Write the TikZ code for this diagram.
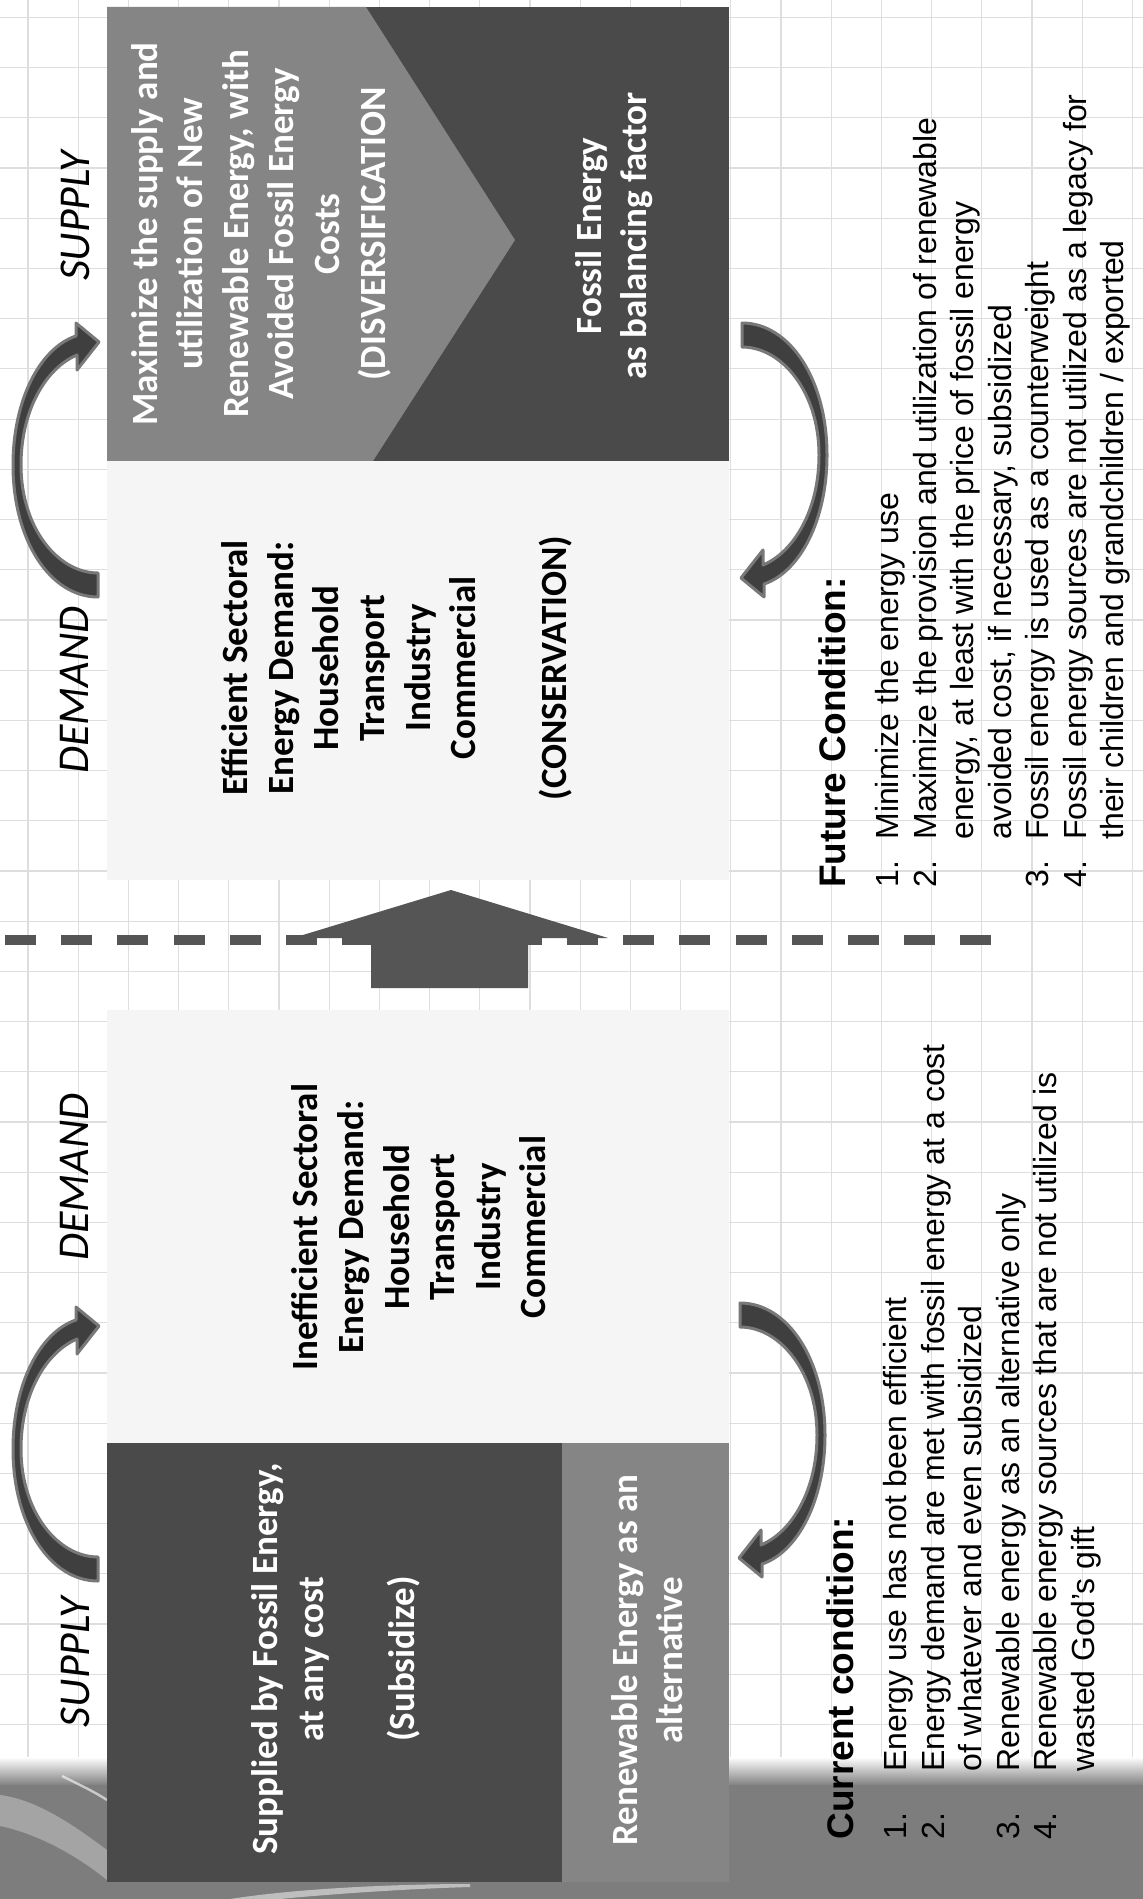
\documentclass[tikz,border=0pt]{standalone}
\usepackage{fontspec}
\setmainfont{Liberation Sans}
\newfontfamily\calib{Carlito}
\usepackage{tikz}
\usetikzlibrary{positioning}

\definecolor{darkfill}{HTML}{4A4A4A}
\definecolor{midfill}{HTML}{858585}
\definecolor{lightfill}{HTML}{F5F5F5}
\definecolor{arrowdark}{HTML}{3F3F3F}
\definecolor{arrowrim}{HTML}{787878}
\definecolor{shiftgray}{HTML}{555555}
\definecolor{gridgray}{HTML}{DEDEDE}
\definecolor{bandgray}{HTML}{7D7D7D}

\begin{document}
\begin{tikzpicture}[x=0.5pt, y=-0.5pt,
  gridline/.style={draw=gridgray, line width=0.6pt},
  boxtext/.style={rotate=90, align=center, inner sep=0pt, font=\calib\bfseries\fontsize{18.5}{22.8}\selectfont},
  sidelabel/.style={rotate=90, inner sep=0pt, font=\calib\itshape\fontsize{22}{26}\selectfont},
  listnode/.style={rotate=90, anchor=north west, inner sep=0pt, font=\fontsize{16}{18.75}\selectfont},
  curvarrow/.pic={
    \filldraw[fill=arrowdark, draw=arrowrim, line width=1.5pt, line join=round]
      (-2,137) .. controls (-50,137) and (-87,80) .. (-87,5)
      .. controls (-87,-60) and (-60,-112) .. (-24,-124)
      -- (-24,-137) -- (-1,-118) -- (-23,-90) -- (-23,-105)
      .. controls (-54,-92) and (-79,-50) .. (-79,5)
      .. controls (-79,68) and (-42,113) .. (-2,113) -- cycle;
  }]
  \useasboundingbox (0,0) rectangle (1143,1899);
  \fill[white] (0,0) rectangle (1143,1899);

  % graph paper
  \foreach \gx in {0,...,22}
    \draw[gridline] ({28+50.2*\gx},0) -- ({28+50.2*\gx},1899);
  \foreach \gy in {0,...,37}
    \draw[gridline] (0,{17.5+50.2*\gy}) -- (1143,{17.5+50.2*\gy});

  % slide band at the foot
  \shade[top color=white, bottom color=bandgray] (0,1757) rectangle (1143,1786);
  \fill[bandgray] (0,1785) rectangle (1143,1899);
  \fill[white, opacity=0.3] (0,1795) .. controls (40,1800) and (80,1830) .. (107,1850)
    -- (107,1880) .. controls (70,1850) and (30,1832) .. (0,1826) -- cycle;
  \draw[white, opacity=0.6, line width=1.2pt] (62,1776) .. controls (80,1785) and (95,1792) .. (107,1800);
  \fill[white, opacity=0.5] (230,1899) .. controls (300,1888) and (400,1884) .. (470,1884)
    -- (470,1887) .. controls (400,1889) and (320,1895) .. (280,1899) -- cycle;

  % future blocks
  \fill[darkfill] (107,7) rectangle (729,461);
  \fill[midfill] (107,7) -- (366,7) -- (515,240) -- (373,461) -- (107,461) -- cycle;
  \fill[lightfill] (107,461) rectangle (729,880);
  % current blocks
  \fill[lightfill] (107,1010) rectangle (729,1443);
  \fill[darkfill] (107,1443) rectangle (562,1882);
  \fill[midfill] (562,1443) rectangle (729,1882);

  \node[boxtext, text=white] (diversify) at (261,234) {Maximize the supply and\\utilization of New\\Renewable Energy, with\\Avoided Fossil Energy\\Costs\\(DISVERSIFICATION};
  \node[boxtext, text=white] (balance) at (614,236) {Fossil Energy\\as balancing factor};
  \node[boxtext] (efficient) at (397,668) {Efficient Sectoral\\Energy Demand:\\Household\\Transport\\Industry\\Commercial\\[22.8pt](CONSERVATION)};
  \node[boxtext] (inefficient) at (419,1227) {Inefficient Sectoral\\Energy Demand:\\Household\\Transport\\Industry\\Commercial};
  \node[boxtext, text=white] (fossil) at (336,1659) {Supplied by Fossil Energy,\\at any cost\\[22.8pt](Subsidize)};
  \node[boxtext, text=white] (renew) at (647,1660) {Renewable Energy as an\\alternative};

  \node[sidelabel] (supplytop) at (75,216) {SUPPLY};
  \node[sidelabel] (demandtop) at (74,690) {DEMAND};
  \node[sidelabel] (demandlow) at (74,1177) {DEMAND};
  \node[sidelabel] (supplylow) at (75,1662) {SUPPLY};

  % cycle arrows
  \pic at (100,460) {curvarrow};
  \pic at (100,1444) {curvarrow};
  \pic[rotate=180] at (740,460) {curvarrow};
  \pic[rotate=180] at (738,1440) {curvarrow};

  % divide and shift
  \draw[shiftgray, line width=5pt, dash pattern=on 15.5pt off 12.6pt] (5,940) -- (993,940);
  \fill[shiftgray] (451,890) -- (608,938) -- (528,938) -- (528,988) -- (371,988)
    -- (371,938) -- (293,938) -- cycle;

  \node[listnode] (futurelist) at (818,888) {%
    \begin{tabular}{@{}p{24pt}@{}l@{}}
      \multicolumn{2}{@{}l@{}}{\bfseries\fontsize{18.5}{22}\selectfont Future Condition:}\\[8pt]
      1. & Minimize the energy use\\
      2. & Maximize the provision and utilization of renewable\\
         & energy, at least with the price of fossil energy\\
         & avoided cost, if necessary, subsidized\\
      3. & Fossil energy is used as a counterweight\\
      4. & Fossil energy sources are not utilized as a legacy for\\
         & their children and grandchildren / exported
    \end{tabular}};
  \node[listnode] (currentlist) at (826,1840) {%
    \begin{tabular}{@{}p{34pt}@{}l@{}}
      \multicolumn{2}{@{}l@{}}{\bfseries\fontsize{18.5}{22}\selectfont Current condition:}\\[8pt]
      1. & Energy use has not been efficient\\
      2. & Energy demand are met with fossil energy at a cost\\
         & of whatever and even subsidized\\
      3. & Renewable energy as an alternative only\\
      4. & Renewable energy sources that are not utilized is\\
         & wasted God's gift
    \end{tabular}};
\end{tikzpicture}
\end{document}
